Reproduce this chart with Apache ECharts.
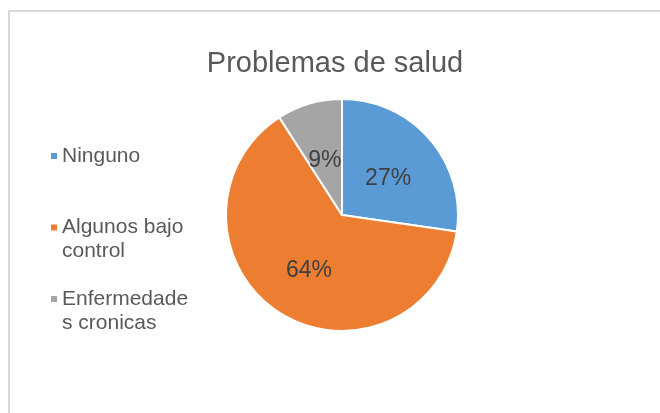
<!DOCTYPE html>
<html>
<head>
<meta charset="utf-8">
<script src="https://cdn.jsdelivr.net/npm/echarts@6/dist/echarts.min.js"></script>
<style>
  html, body { margin: 0; padding: 0; background: #fff; }
  #chart { width: 660px; height: 413px; }
</style>
</head>
<body>
<div id="chart"></div>
<script>
// datos del gráfico
var categorias = ['Ninguno', 'Algunos bajo control', 'Enfermedades cronicas'];
var valores = [3, 7, 1];
var colores = ['#5B9BD5', '#ED7D31', '#A5A5A5'];
var titulo = 'Problemas de salud';

var fuente = '"Liberation Sans", Arial, sans-serif';
var altoLinea = 24;
// leyendas que caben en una línea (las demás se parten en dos)
var unaLinea = ['Ninguno'];

// el cuadrito va alineado con la primera línea del texto, como en Excel
var iconoUna = 'path://M0,12h6v6h-6zM0,0M6,30';
var iconoDos = 'path://M0,0h6v6h-6zM6,30';

var chart = echarts.init(document.getElementById('chart'), null, { renderer: 'canvas' });

var option = {
  animation: false,
  color: colores,
  title: {
    text: titulo,
    left: 335,
    top: 49,
    padding: 0,
    textAlign: 'center',
    textStyle: {
      fontFamily: fuente,
      fontSize: 29,
      fontWeight: 'normal',
      color: '#595959'
    }
  },
  legend: {
    orient: 'vertical',
    left: 51,
    top: 120,
    padding: 0,
    itemGap: 23.5,
    itemWidth: 6,
    itemHeight: 30,
    selectedMode: false,
    itemStyle: { borderWidth: 0 },
    data: categorias.map(function (c) {
      var una = unaLinea.indexOf(c) >= 0;
      return {
        name: c,
        icon: una ? iconoUna : iconoDos,
        textStyle: {
          padding: una ? [altoLinea, 0, altoLinea, 0] : 0
        }
      };
    }),
    textStyle: {
      fontFamily: fuente,
      fontSize: 21,
      color: '#595959',
      lineHeight: altoLinea,
      width: 130,
      overflow: 'break',
      backgroundColor: 'transparent'
    }
  },
  graphic: [{
    type: 'rect',
    shape: { x: 9, y: 11, width: 700, height: 500 },
    style: { fill: 'none', stroke: '#d9d9d9', lineWidth: 2 },
    silent: true
  }],
  series: [{
    type: 'pie',
    center: [342, 215],
    radius: 116,
    startAngle: 90,
    clockwise: true,
    avoidLabelOverlap: false,
    itemStyle: {
      borderColor: '#ffffff',
      borderWidth: 2
    },
    label: {
      show: true,
      position: 'inside',
      formatter: function (p) { return Math.round(p.percent) + '%'; },
      fontFamily: fuente,
      fontSize: 23,
      color: '#404040',
      offset: [0, 4]
    },
    labelLine: { show: false },
    emphasis: { disabled: true },
    data: categorias.map(function (c, i) {
      return { name: c, value: valores[i] };
    })
  }]
};

chart.setOption(option);
</script>
</body>
</html>
